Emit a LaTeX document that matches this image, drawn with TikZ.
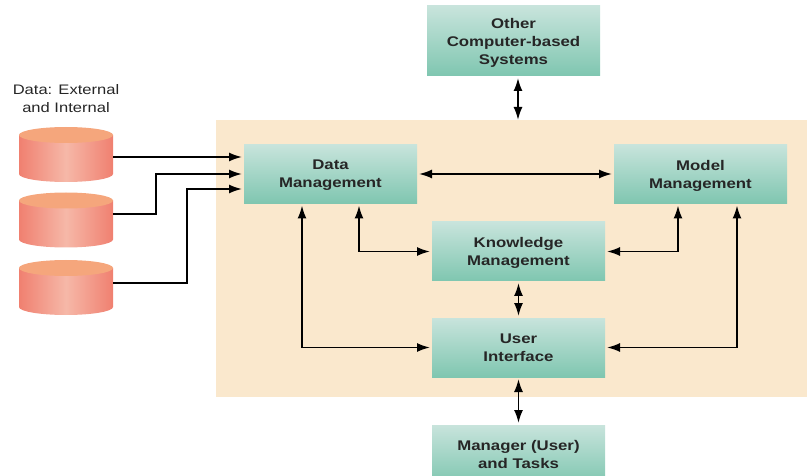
\documentclass[tikz,border=0pt]{standalone}
\usepackage{fontspec}
\setmainfont[FakeStretch=1.2]{Liberation Sans}
\usetikzlibrary{arrows.meta}
\definecolor{panelcol}{HTML}{FAE8CD}
\definecolor{boxtop}{HTML}{C8E4DC}
\definecolor{boxbot}{HTML}{7FC6B0}
\definecolor{dbside}{HTML}{F08070}
\definecolor{dbmid}{HTML}{F6B8A8}
\definecolor{dbtop}{HTML}{F5A67C}
\tikzset{
	box/.style={rectangle,top color=boxtop,bottom color=boxbot,inner sep=0,outer sep=2pt,minimum width=173pt,minimum height=59pt,align=center,text depth=0pt,font=\fontsize{14}{18}\selectfont\bfseries,text=black!85},
	db/.style={rectangle,inner sep=0,outer sep=0,minimum width=94pt,minimum height=55pt},
	dbbody/.style={left color=dbside,right color=dbside,middle color=dbmid},
	link/.style={line width=1.8pt,-{Latex[length=13pt,width=9pt]}},
	dlink/.style={line width=1.8pt,{Latex[length=13pt,width=9pt]}-{Latex[length=13pt,width=9pt]}},
}
\begin{document}
\begin{tikzpicture}[x=1pt,y=-1pt]
	\useasboundingbox (0,0) rectangle (807,476);
	\node[fill=panelcol,inner sep=0,outer sep=0,minimum width=591pt,minimum height=277pt] (panel) at (511.5,258.5) {};
	\node[box,minimum height=70pt] (other) at (513.5,41) {Other\\Computer-based\\Systems};
	\node[box] (data) at (330.5,174) {Data\\Management};
	\node[box] (model) at (700.5,174) {Model\\Management};
	\node[box] (know) at (518.5,251.5) {Knowledge\\Management};
	\node[box] (user) at (518.5,347.5) {User\\Interface};
	\node[box] (manager) at (518.5,454.5) {Manager (User)\\and Tasks};
	\node[align=center,text depth=0pt,font=\fontsize{13.8}{18}\selectfont,text=black!85] (label) at (66,99) {Data: External\\and Internal};
	\foreach \n/\y in {1/154.5,2/220,3/287.5} {
		\node[db] (db\n) at (66,\y) {};
		\shade[dbbody] ([yshift=-8pt]db\n.north west) -- ([yshift=8pt]db\n.south west) arc [start angle=180,end angle=360,x radius=47pt,y radius=8pt] -- ([yshift=-8pt]db\n.north east) -- cycle;
		\fill[dbtop] ([yshift=-8pt]db\n.north) ellipse [x radius=47pt,y radius=8pt];
	}
	\coordinate (in1) at (242,157);
	\coordinate (in2) at (242,174);
	\coordinate (in3) at (242,189);
	\draw[link] (db1.east |- in1) -- (in1);
	\draw[link] ([yshift=6pt]db2.east) -| (156,174) -- (in2);
	\draw[link] ([yshift=4.5pt]db3.east) -| (187,189) -- (in3);
	\draw[dlink] (data.east) -- (model.west);
	\draw[dlink] (other.south -| 518,0) -- (panel.north -| 518,0);
	\draw[dlink] (know.south) -- (user.north);
	\draw[dlink] (user.south) -- (manager.north);
	\draw[dlink] ([xshift=28.5pt]data.south) |- (know.west);
	\draw[dlink] ([xshift=-28.5pt]data.south) |- (user.west);
	\draw[dlink] ([xshift=-22.5pt]model.south) |- (know.east);
	\draw[dlink] ([xshift=36.5pt]model.south) |- (user.east);
\end{tikzpicture}
\end{document}
